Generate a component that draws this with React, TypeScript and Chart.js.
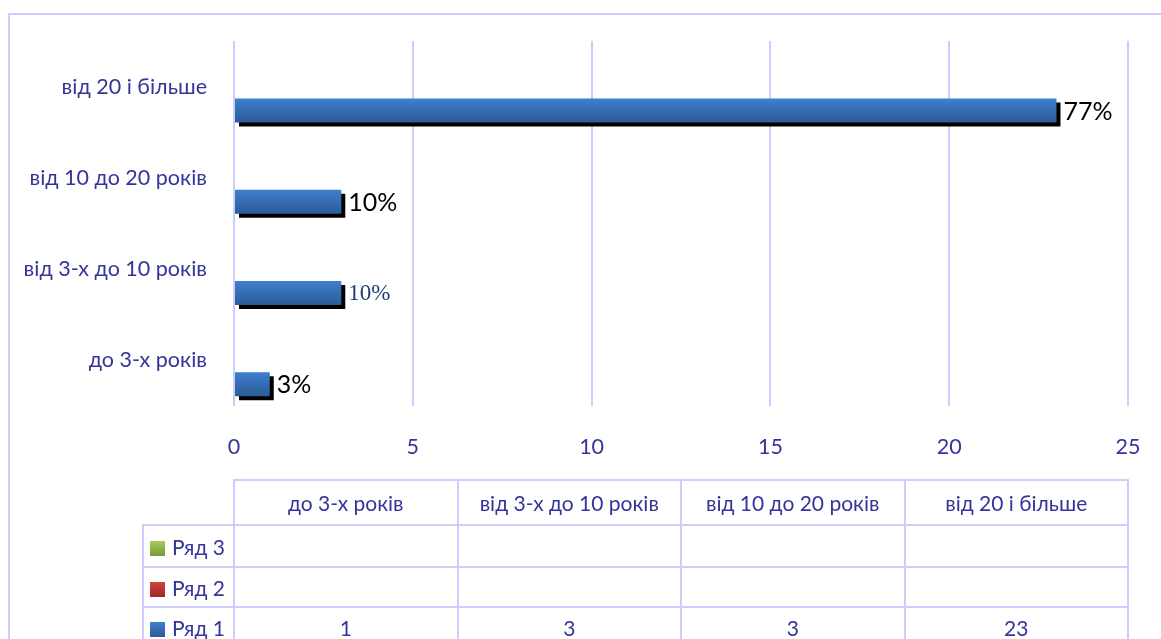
import React, { useEffect, useRef } from 'react';
import { Chart, registerables } from 'chart.js';

Chart.register(...registerables);

// ---- data ----
const categories = ['до 3-х років', 'від 3-х до 10 років', 'від 10 до 20 років', 'від 20 і більше'];
const series1 = [1, 3, 3, 23];
const series2: (number | null)[] = [null, null, null, null];
const series3: (number | null)[] = [null, null, null, null];
const seriesNames = ['Ряд 1', 'Ряд 2', 'Ряд 3'];
const percentLabels = ['3%', '10%', '10%', '77%'];
const xMin = 0;
const xMax = 25;
const xStep = 5;

// ---- style ----
const FONT = 'Lato, "Open Sans", sans-serif';
const TEXT = '#34349a';
const GRID = '#ccccff';
const GRADS: Record<string, [string, string]> = {
  'Ряд 1': ['#3f7fcd', '#2c5b98'],
  'Ряд 2': ['#d6403d', '#9c2826'],
  'Ряд 3': ['#a6cb5c', '#789a3a'],
};
const SERIF_LABEL_INDEX = 1;

export default function App() {
  const ref = useRef<HTMLCanvasElement>(null);

  useEffect(() => {
    let chart: Chart | null = null;
    let dead = false;

    const make = () => {
      if (dead || !ref.current) return;

      const gradientBars = {
        id: 'gradientBars',
        beforeDatasetsDraw(c: any) {
          c.data.datasets.forEach((ds: any, di: number) => {
            const meta = c.getDatasetMeta(di);
            const cols = GRADS[ds.label];
            meta.data.forEach((el: any) => {
              const p = el.getProps(['y', 'height'], true);
              if (!isFinite(p.y) || !isFinite(p.height)) return;
              const g = c.ctx.createLinearGradient(0, p.y - p.height / 2, 0, p.y + p.height / 2);
              g.addColorStop(0, cols[0]);
              g.addColorStop(1, cols[1]);
              el.options = Object.assign({}, el.options, { backgroundColor: g });
            });
          });
        },
        beforeDatasetDraw(c: any) {
          const ctx = c.ctx;
          ctx.save();
          ctx.shadowColor = '#000000';
          ctx.shadowOffsetX = 4;
          ctx.shadowOffsetY = 4;
          ctx.shadowBlur = 0;
        },
        afterDatasetDraw(c: any) {
          c.ctx.restore();
        },
        afterDatasetsDraw(c: any) {
          const di = c.data.datasets.findIndex((d: any) => d.label === 'Ряд 1');
          const meta = c.getDatasetMeta(di);
          const ctx = c.ctx;
          meta.data.forEach((el: any, i: number) => {
            ctx.save();
            const serif = i === SERIF_LABEL_INDEX;
            ctx.font = serif ? '23px "Liberation Serif", serif' : `25px ${FONT}`;
            ctx.fillStyle = serif ? '#1f3f73' : '#000000';
            ctx.textAlign = 'left';
            ctx.textBaseline = 'middle';
            ctx.fillText(percentLabels[i], el.x + 7, el.y + 1);
            ctx.restore();
          });
        },
      };

      chart = new Chart(ref.current, {
        type: 'bar',
        data: {
          labels: categories,
          datasets: [
            { label: seriesNames[2], data: series3 as any, backgroundColor: GRADS['Ряд 3'][0] },
            { label: seriesNames[1], data: series2 as any, backgroundColor: GRADS['Ряд 2'][0] },
            { label: seriesNames[0], data: series1, backgroundColor: GRADS['Ряд 1'][0] },
          ],
        },
        options: {
          indexAxis: 'y',
          animation: false,
          responsive: true,
          maintainAspectRatio: false,
          categoryPercentage: 0.785,
          barPercentage: 1,
          layout: { padding: { top: 41, right: 33, left: 0, bottom: 0 } },
          plugins: {
            legend: { display: false },
            tooltip: { enabled: false },
            title: { display: false },
          },
          scales: {
            x: {
              type: 'linear',
              min: xMin,
              max: xMax,
              ticks: {
                stepSize: xStep,
                color: TEXT,
                font: { family: FONT, size: 21.5 },
                padding: 28,
              },
              grid: { color: GRID, lineWidth: 2, drawTicks: false },
              border: { display: false },
              afterFit(scale: any) {
                scale.height = 233;
                scale.paddingLeft = 0;
                scale.paddingRight = 0;
              },
            },
            y: {
              type: 'category',
              reverse: true,
              ticks: {
                color: TEXT,
                font: { family: FONT, size: 21.5 },
                padding: 27,
              },
              grid: { display: false, drawTicks: false },
              border: { display: false },
              afterFit(scale: any) {
                scale.width = 234;
                scale.paddingTop = 0;
                scale.paddingBottom = 0;
              },
            },
          },
        },
        plugins: [gradientBars],
      } as any);
    };

    const fonts = [
      `21.5px ${FONT}`,
      `25px ${FONT}`,
      '23px "Liberation Serif"',
    ];
    Promise.all(fonts.map((f) => (document as any).fonts.load(f).catch(() => null)))
      .then(make, make);

    return () => {
      dead = true;
      if (chart) chart.destroy();
    };
  }, []);

  const rows = [
    { name: seriesNames[2], values: series3 },
    { name: seriesNames[1], values: series2 },
    { name: seriesNames[0], values: series1 },
  ];
  const rowHeights = [42, 40, 40];
  const cellBorder = `2px solid ${GRID}`;

  return (
    <div
      style={{
        position: 'fixed',
        left: 0,
        top: 0,
        width: 1161,
        height: 639,
        overflow: 'hidden',
        background: '#ffffff',
      }}
    >
      <div
        style={{
          position: 'absolute',
          left: 8,
          top: 13,
          width: 1300,
          height: 800,
          border: `2px solid ${GRID}`,
          boxSizing: 'border-box',
        }}
      />
      <div style={{ position: 'absolute', left: 0, top: 0, width: 1161, height: 639 }}>
        <canvas ref={ref} />
      </div>
      <table
        style={{
          position: 'absolute',
          left: 142,
          top: 479,
          borderCollapse: 'collapse',
          tableLayout: 'fixed',
          width: 985,
          fontFamily: FONT,
          fontSize: 21,
          color: TEXT,
        }}
      >
        <colgroup>
          <col style={{ width: 91 }} />
          {categories.map((c) => (
            <col key={c} style={{ width: 223.5 }} />
          ))}
        </colgroup>
        <tbody>
          <tr style={{ height: 45 }}>
            <td style={{ border: 'none', padding: 0 }} />
            {categories.map((c) => (
              <td key={c} style={{ border: cellBorder, textAlign: 'center', padding: 0, whiteSpace: 'nowrap' }}>
                {c}
              </td>
            ))}
          </tr>
          {rows.map((r, ri) => (
            <tr key={r.name} style={{ height: rowHeights[ri] }}>
              <td style={{ border: cellBorder, padding: '0 0 0 6px', whiteSpace: 'nowrap' }}>
                <span
                  style={{
                    display: 'inline-block',
                    width: 15,
                    height: 15,
                    marginRight: 7,
                    verticalAlign: '-1px',
                    background: `linear-gradient(${GRADS[r.name][0]}, ${GRADS[r.name][1]})`,
                  }}
                />
                {r.name}
              </td>
              {r.values.map((v, i) => (
                <td key={i} style={{ border: cellBorder, textAlign: 'center', padding: 0 }}>
                  {v === null ? '' : String(v)}
                </td>
              ))}
            </tr>
          ))}
        </tbody>
      </table>
    </div>
  );
}
